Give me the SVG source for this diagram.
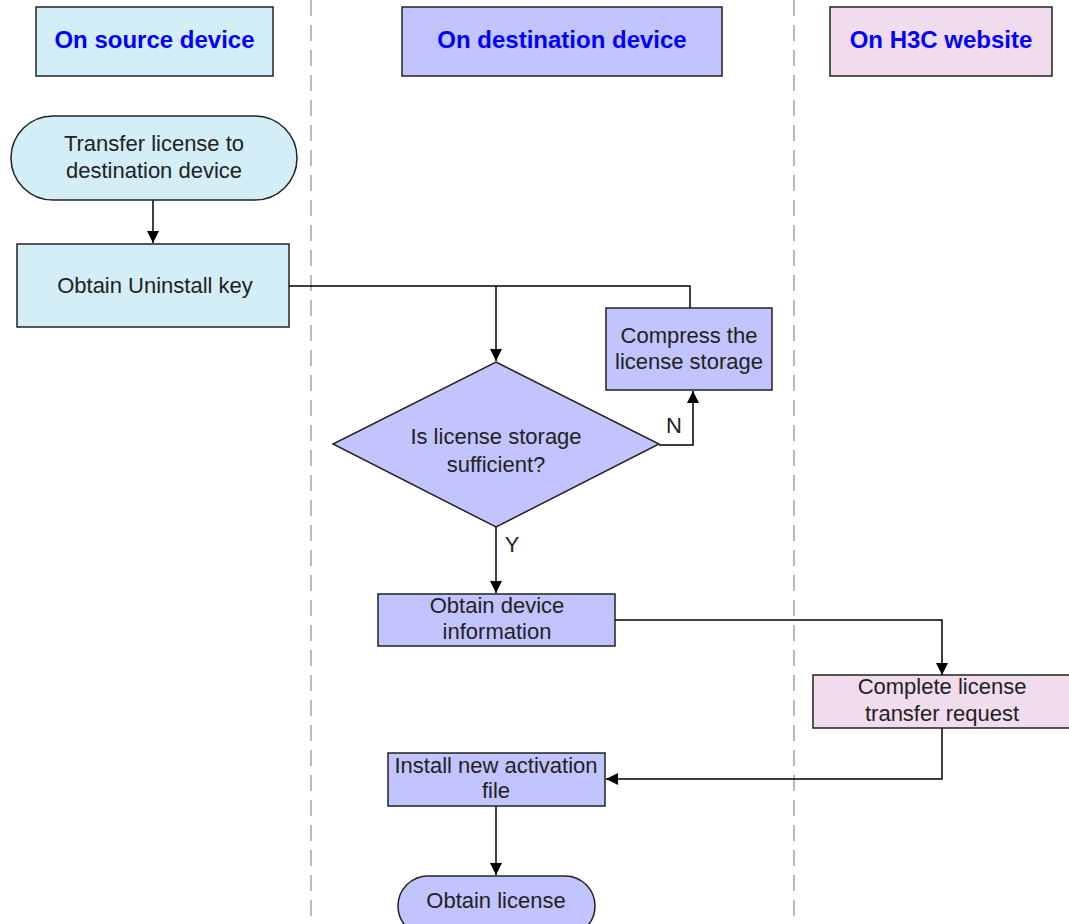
<svg xmlns="http://www.w3.org/2000/svg" width="1069" height="924" viewBox="0 0 1069 924">
<defs>
<style>
.hdr{font-family:"Liberation Sans",Arial,sans-serif;font-size:24px;font-weight:bold;fill:#0000ff;text-anchor:middle}
.t{font-family:"Liberation Sans",Arial,sans-serif;font-size:22px;fill:#222;text-anchor:middle}
.box{stroke:#222;stroke-width:1.5}
.src{fill:#d3eef6}
.dst{fill:#c1c4fe}
.web{fill:#f1dcee}
.lane{stroke:#777;stroke-width:1;stroke-dasharray:16,9;fill:none}
.c{stroke:#000;stroke-width:1.5;fill:none}
</style>
<marker id="ah" markerWidth="12" markerHeight="16" refX="12" refY="8" orient="auto" markerUnits="userSpaceOnUse">
<path d="M0,2 L12,8 L0,14 Z" fill="#000"/>
</marker>
</defs>
<rect x="0" y="0" width="1069" height="924" fill="#fff"/>
<g id="lanes">
<line class="lane" x1="311" y1="0" x2="311" y2="924"/>
<line class="lane" x1="794" y1="0" x2="794" y2="924"/>
</g>
<g id="hdr-source"><rect class="box src" x="36" y="7" width="237" height="69"/><text class="hdr" x="154.5" y="48">On source device</text></g>
<g id="hdr-dest"><rect class="box dst" x="402" y="7" width="320" height="69"/><text class="hdr" x="562" y="48">On destination device</text></g>
<g id="hdr-web"><rect class="box web" x="830" y="7" width="222" height="69"/><text class="hdr" x="941" y="48">On H3C website</text></g>
<g id="connectors">
<line class="c" x1="153" y1="200" x2="153" y2="243" marker-end="url(#ah)"/>
<polyline class="c" points="289,286 690,286 690,308"/>
<line class="c" x1="496" y1="286" x2="496" y2="361" marker-end="url(#ah)"/>
<polyline class="c" points="659,445 693,445 693,391" marker-end="url(#ah)"/>
<line class="c" x1="496" y1="527" x2="496" y2="593" marker-end="url(#ah)"/>
<polyline class="c" points="615,620 942,620 942,675" marker-end="url(#ah)"/>
<polyline class="c" points="942,728 942,779 606,779" marker-end="url(#ah)"/>
<line class="c" x1="496" y1="806" x2="496" y2="875" marker-end="url(#ah)"/>
<text class="t" x="674" y="433">N</text>
<text class="t" x="512" y="552">Y</text>
</g>
<g id="n-transfer"><rect class="box src" x="11" y="116" width="286" height="84" rx="42" ry="42"/><text class="t" x="154" y="151">Transfer license to</text><text class="t" x="154" y="178">destination device</text></g>
<g id="n-uninstall"><rect class="box src" x="17" y="244" width="272" height="83"/><text class="t" x="155" y="293">Obtain Uninstall key</text></g>
<g id="n-compress"><rect class="box dst" x="606" y="308" width="166" height="82"/><text class="t" x="689" y="343">Compress the</text><text class="t" x="689" y="369">license storage</text></g>
<g id="n-decision"><polygon class="box dst" points="496,362 659,444 496,527 333,444"/><text class="t" x="496" y="444">Is license storage</text><text class="t" x="496" y="472">sufficient?</text></g>
<g id="n-devinfo"><rect class="box dst" x="378" y="594" width="237" height="52"/><text class="t" x="497" y="613">Obtain device</text><text class="t" x="497" y="639">information</text></g>
<g id="n-complete"><rect class="box web" x="813" y="675" width="260" height="53"/><text class="t" x="942" y="694">Complete license</text><text class="t" x="942" y="721">transfer request</text></g>
<g id="n-install"><rect class="box dst" x="388" y="753" width="217" height="53"/><text class="t" x="496" y="773">Install new activation</text><text class="t" x="496" y="798">file</text></g>
<g id="n-license"><rect class="box dst" x="398" y="876" width="197" height="60" rx="30" ry="30"/><text class="t" x="496" y="908">Obtain license</text></g>
</svg>
